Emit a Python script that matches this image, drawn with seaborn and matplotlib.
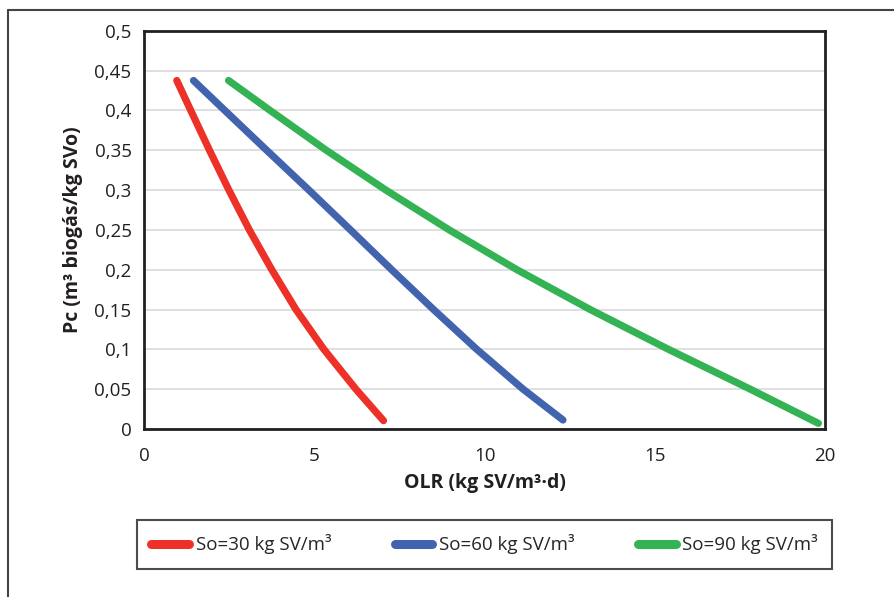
import matplotlib
matplotlib.use("Agg")
import matplotlib.pyplot as plt
import matplotlib.ticker as mtick
from matplotlib.lines import Line2D
import seaborn as sns
import pandas as pd

# datos (Pc en cada linea de la rejilla)
olr_30 = [0.96, 1.37, 1.92, 2.49, 3.09, 3.75, 4.46, 5.28, 6.22, 7.03]
pc_30 = [0.4376, 0.40, 0.35, 0.30, 0.25, 0.20, 0.15, 0.10, 0.05, 0.0105]

olr_60 = [1.45, 2.37, 3.60, 4.84, 6.06, 7.27, 8.50, 9.77, 11.13, 12.30]
pc_60 = [0.4376, 0.40, 0.35, 0.30, 0.25, 0.20, 0.15, 0.10, 0.05, 0.0113]

olr_90 = [2.48, 3.70, 5.35, 7.10, 8.96, 10.95, 13.10, 15.40, 17.80, 19.80]
pc_90 = [0.4376, 0.40, 0.35, 0.30, 0.25, 0.20, 0.15, 0.10, 0.05, 0.0071]

series = ["So=30 kg SV/m³", "So=60 kg SV/m³", "So=90 kg SV/m³"]
colores = ["#ED3128", "#4263AE", "#34B354"]

x_ticks = [0, 5, 10, 15, 20]
y_ticks = [0, 0.05, 0.1, 0.15, 0.2, 0.25, 0.3, 0.35, 0.4, 0.45, 0.5]

df = pd.concat([
    pd.DataFrame({"OLR": olr_30, "Pc": pc_30, "serie": series[0]}),
    pd.DataFrame({"OLR": olr_60, "Pc": pc_60, "serie": series[1]}),
    pd.DataFrame({"OLR": olr_90, "Pc": pc_90, "serie": series[2]}),
])

sns.set_style("white")
plt.rcParams["font.family"] = ["Open Sans", "DejaVu Sans"]

fig = plt.figure(figsize=(8.95, 5.97), dpi=100)
ax = fig.add_axes([0.161, 0.2814, 0.761, 0.667])

sns.lineplot(data=df, x="OLR", y="Pc", hue="serie", palette=colores, sort=False,
             estimator=None, linewidth=5.2, solid_capstyle="round", solid_joinstyle="round",
             ax=ax, legend=True)

ax.set_xlim(0, 20)
ax.set_ylim(0, 0.5)
ax.set_xticks(x_ticks)
ax.set_yticks(y_ticks)
ax.yaxis.set_major_formatter(mtick.FuncFormatter(lambda v, p: f"{v:g}".replace(".", ",")))
ax.grid(axis="y", color="#d9d9d9", linewidth=1.2)
ax.set_axisbelow(True)

for s in ax.spines.values():
    s.set_color("#231f20")
    s.set_linewidth(2)

ax.tick_params(axis="both", direction="out", length=5, width=1.5, color="#231f20",
               labelsize=13.5, labelcolor="#231f20")
ax.tick_params(axis="x", pad=8)
ax.tick_params(axis="y", pad=4)

ax.set_xlabel("OLR (kg SV/m³·d)", fontsize=14, fontweight="bold", color="#231f20", labelpad=6)
ax.set_ylabel("Pc (m³ biogás/kg SVo)", fontsize=14, fontweight="bold", color="#231f20", labelpad=8)

handles, labels = ax.get_legend_handles_labels()
leg = ax.legend(handles, labels, loc="center", bbox_to_anchor=(0.5, -0.29), ncol=3,
                fontsize=13.5, frameon=True, fancybox=False, handlelength=2.0,
                handletextpad=0.35, columnspacing=3.4, borderpad=0.75)
leg.get_frame().set_edgecolor("#231f20")
leg.get_frame().set_linewidth(1.5)
for h in leg.get_lines():
    h.set_linewidth(6.5)
    h.set_solid_capstyle("round")

# marco exterior (solo arriba e izquierda visibles)
fig.add_artist(Line2D([8 / 895, 1], [1 - 10 / 597, 1 - 10 / 597], color="#444444", linewidth=1.5))
fig.add_artist(Line2D([8 / 895, 8 / 895], [0, 1 - 10 / 597], color="#444444", linewidth=1.5))

fig.savefig("out.png", dpi=100)
